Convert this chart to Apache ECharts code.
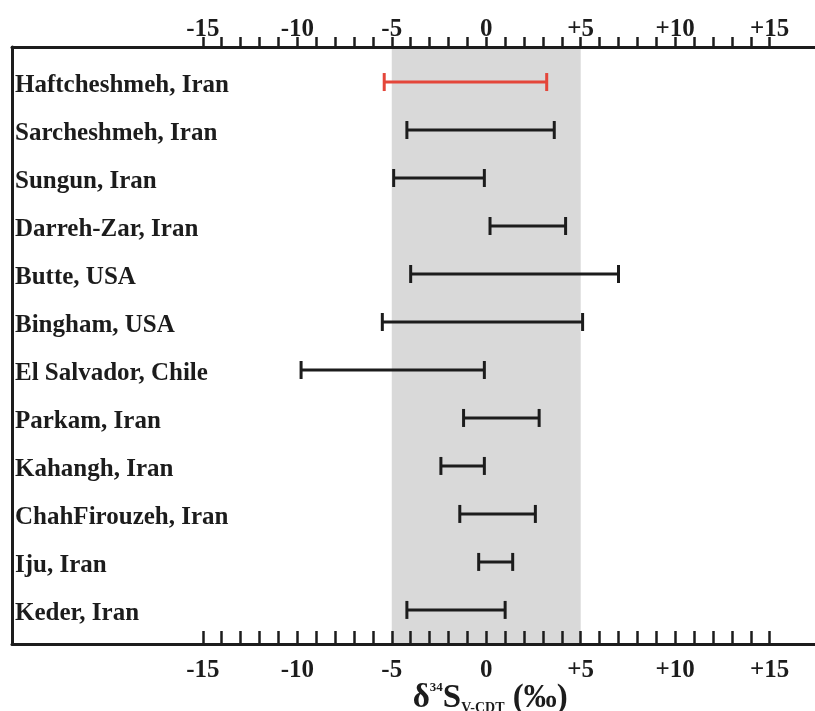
<!DOCTYPE html>
<html>
<head>
<meta charset="utf-8">
<script src="https://cdn.jsdelivr.net/npm/echarts@6/dist/echarts.min.js"></script>
<style>
  html, body { margin: 0; padding: 0; background: #fff; }
  #chart { width: 815px; height: 711px; }
</style>
</head>
<body>
<div id="chart"></div>
<script>
// sulfur isotope ranges, top to bottom
const sites = [
  'Haftcheshmeh, Iran', 'Sarcheshmeh, Iran', 'Sungun, Iran', 'Darreh-Zar, Iran',
  'Butte, USA', 'Bingham, USA', 'El Salvador, Chile', 'Parkam, Iran',
  'Kahangh, Iran', 'ChahFirouzeh, Iran', 'Iju, Iran', 'Keder, Iran'
]
const lowValues  = [-5.4, -4.2, -4.9, 0.2, -4.0, -5.5, -9.8, -1.2, -2.4, -1.4, -0.4, -4.2]
const highValues = [ 3.2,  3.6, -0.1, 4.2,  7.0,  5.1, -0.1,  2.8, -0.1,  2.6,  1.4,  1.0]
const tickLabels = [-15, -10, -5, 0, 5, 10, 15]
const shadeRange = [-5, 5]
const highlightSite = 'Haftcheshmeh, Iran'

const FONT = 'Liberation Serif'
const INK = '#1c1c1c'

const minorTicks = []
for (let v = tickLabels[0]; v <= tickLabels[tickLabels.length - 1]; v++) minorTicks.push(v)

const fmtTick = v => (v > 0 ? '+' + v : String(v))

const labelStyle = { fontFamily: FONT, fontWeight: 'bold', fontSize: 25, color: INK }

function renderRange (params, api) {
  const lo = api.coord([api.value(1), api.value(0)])
  const hi = api.coord([api.value(2), api.value(0)])
  const cap = 9
  const color = sites[params.dataIndex] === highlightSite ? '#e4463a' : INK
  const style = { stroke: color, lineWidth: 3 }
  return {
    type: 'group',
    children: [
      { type: 'line', shape: { x1: lo[0], y1: lo[1], x2: hi[0], y2: hi[1] }, style },
      { type: 'line', shape: { x1: lo[0], y1: lo[1] - cap, x2: lo[0], y2: lo[1] + cap }, style },
      { type: 'line', shape: { x1: hi[0], y1: hi[1] - cap, x2: hi[0], y2: hi[1] + cap }, style }
    ]
  }
}

const axisBase = {
  type: 'value',
  min: -25.1,
  max: 17.4,
  z: 5,
  splitLine: { show: false },
  axisLine: { show: true, onZero: false, lineStyle: { color: INK, width: 3 } }
}

const chart = echarts.init(document.getElementById('chart'))
chart.setOption({
  animation: false,
  backgroundColor: '#fff',
  grid: { left: 12, right: 0, top: 47, bottom: 67 },
  xAxis: [
    Object.assign({}, axisBase, {
      position: 'bottom',
      axisTick: { show: true, inside: true, length: 13, customValues: minorTicks, lineStyle: { color: INK, width: 2.5 } },
      axisLabel: Object.assign({ customValues: tickLabels, formatter: fmtTick, margin: 14 }, labelStyle)
    }),
    Object.assign({}, axisBase, {
      position: 'top',
      axisTick: { show: true, inside: false, length: 10, customValues: minorTicks, lineStyle: { color: INK, width: 2.5 } },
      axisLabel: Object.assign({ customValues: tickLabels, formatter: fmtTick, margin: 5 }, labelStyle)
    })
  ],
  yAxis: {
    type: 'value',
    inverse: true,
    min: -0.73,
    max: 11.71,
    z: 5,
    splitLine: { show: false },
    axisTick: { show: false },
    axisLine: { show: true, onZero: false, lineStyle: { color: INK, width: 3 } },
    axisLabel: Object.assign({
      inside: true,
      margin: 3,
      customValues: sites.map((s, i) => i),
      formatter: v => '{s|' + sites[v] + '}',
      rich: { s: Object.assign({ padding: [8, 0, 0, 0] }, labelStyle) }
    }, labelStyle)
  },
  series: [
    {
      type: 'line',
      data: [],
      z: 1,
      markArea: {
        silent: true,
        itemStyle: { color: '#d9d9d9' },
        data: [[{ xAxis: shadeRange[0] }, { xAxis: shadeRange[1] }]]
      }
    },
    {
      type: 'custom',
      z: 3,
      renderItem: renderRange,
      encode: { x: [1, 2], y: 0 },
      data: sites.map((s, i) => [i, lowValues[i], highValues[i]])
    }
  ]
})

// axis title centred under zero
const zeroX = chart.convertToPixel({ xAxisIndex: 0 }, 0)
chart.setOption({
  graphic: [{
    type: 'text',
    x: zeroX + 4,
    y: 698,
    style: {
      text: '{d|δ}{sup|34}{d|S}{sub|V-CDT}{d| (‰)}',
      align: 'center',
      verticalAlign: 'middle',
      fill: INK,
      rich: {
        d: { fontFamily: FONT, fontWeight: 'bold', fontSize: 33, lineHeight: 34 },
        sup: { fontFamily: FONT, fontWeight: 'bold', fontSize: 13, verticalAlign: 'top', lineHeight: 34 },
        sub: { fontFamily: FONT, fontWeight: 'bold', fontSize: 14, verticalAlign: 'bottom', lineHeight: 24 }
      }
    }
  }]
})
</script>
</body>
</html>
